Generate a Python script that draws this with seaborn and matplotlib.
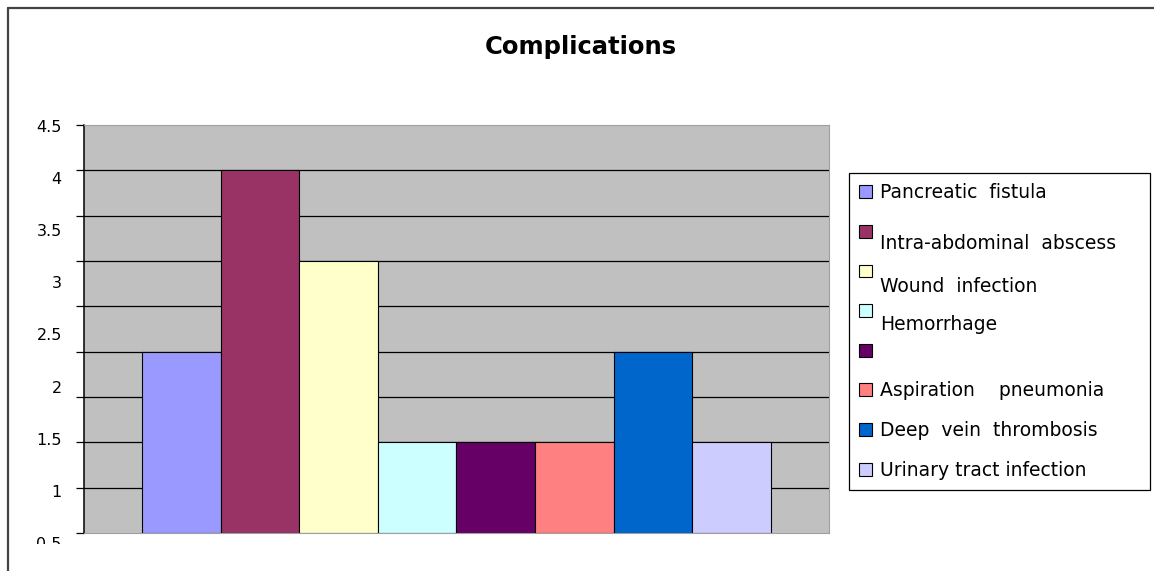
import matplotlib
matplotlib.use("Agg")
import matplotlib.pyplot as plt
from matplotlib.patches import Patch
from matplotlib.lines import Line2D
from matplotlib.transforms import Bbox
import numpy as np
import pandas as pd
import seaborn as sns

## DATA ##
names = ["Pancreatic  fistula", "Intra-abdominal  abscess", "Wound  infection",
         "Hemorrhage", "", "Aspiration    pneumonia", "Deep  vein  thrombosis",
         "Urinary tract infection"]
counts = [2, 4, 3, 1, 1, 1, 2, 1]
colors = ["#9999FF", "#993366", "#FFFFCC", "#CCFFFF",
          "#660066", "#FF8080", "#0066CC", "#CCCCFF"]
grid_ticks = [0, 0.5, 1, 1.5, 2, 2.5, 3, 3.5, 4, 4.5]
label_ticks = [0.5, 1, 1.5, 2, 2.5, 3, 3.5, 4, 4.5]
label_text = ["0.5", "1", "1.5", "2", "2.5", "3", "3.5", "4", "4.5"]

df = pd.DataFrame({"group": ["Complications"] * len(names), "name": names, "count": counts})

W, H = 1154, 571
sns.set_style("white")
plt.rcParams['font.family'] = ['DejaVu Sans']
plt.rcParams['text.color'] = 'black'
plt.rcParams['ytick.color'] = 'black'
plt.rcParams['ytick.labelcolor'] = 'black'

fig = plt.figure(figsize=(W / 100, H / 100), dpi=100)
ax = fig.add_axes([84 / W, 38 / H, 745 / W, 408 / H])
ax.set_facecolor("#C0C0C0")
ax.set_axisbelow(True)

sns.barplot(data=df, x="group", y="count", hue="name", hue_order=names,
            palette=colors, saturation=1, width=0.843, errorbar=None,
            edgecolor="black", linewidth=0.8, legend=False, ax=ax)

ax.set_xlim(-0.5, 0.5)
ax.set_ylim(0, 4.5)
ax.set_xticks([])
ax.set_xlabel("")
ax.set_ylabel("")
ax.set_yticks(grid_ticks)
ax.set_yticklabels([])
ax.tick_params(axis="y", direction="out", length=5.8, width=0.9, color="black", left=True)
ax.yaxis.grid(True, color="black", linewidth=0.9)
gl = ax.get_ygridlines()
gl[0].set_visible(False)
gl[-1].set_visible(False)

for side in ["top", "right", "bottom"]:
    ax.spines[side].set_color("#A0A0A0")
    ax.spines[side].set_linewidth(0.8)
ax.spines["left"].set_color("black")
ax.spines["left"].set_linewidth(1.1)

# the value labels sit on their own (slightly taller) scale, as in the original
lab = fig.add_axes([84 / W, 28 / H, 0.0001, 417 / H])
lab.set_ylim(0.5, 4.5)
lab.set_yticks(label_ticks)
lab.set_yticklabels(label_text)
lab.set_xticks([])
lab.set_frame_on(False)
lab.tick_params(axis="y", length=0, pad=16, labelsize=11.5)
clip = Bbox.from_extents(0, H - 544, W, H)
for t in lab.get_yticklabels():
    t.set_clip_box(clip)
    t.set_clip_on(True)

# title
fig.text(581 / W, 1 - 47 / H, "Complications", ha="center", va="center",
         fontsize=17.5, fontweight="bold")

# legend
handles = [Patch(facecolor=c, edgecolor="black", linewidth=0.8) for c in colors]
leg = fig.legend(handles, names, loc="upper left", mode="expand",
                 bbox_to_anchor=(849 / W, 1 - 173 / H, 301 / W, 0), borderaxespad=0,
                 fontsize=13.5, frameon=True, fancybox=False, shadow=False,
                 edgecolor="black", framealpha=1, handlelength=0.68,
                 handleheight=0.68, handletextpad=0.45, borderpad=0.55,
                 labelspacing=1.1)
leg.get_frame().set_linewidth(0.9)
for i, dy in [(1, 11), (2, 14), (3, 13)]:
    leg.get_texts()[i].set_y(-dy)

# chart frame (left and top edges)
fig.add_artist(Line2D([7.5 / W, 7.5 / W], [1 - 8 / H, 0], transform=fig.transFigure,
                      color="#444444", linewidth=1.6))
fig.add_artist(Line2D([7.5 / W, 1], [1 - 8 / H, 1 - 8 / H], transform=fig.transFigure,
                      color="#444444", linewidth=1.6))

fig.savefig("out.png", dpi=100)
